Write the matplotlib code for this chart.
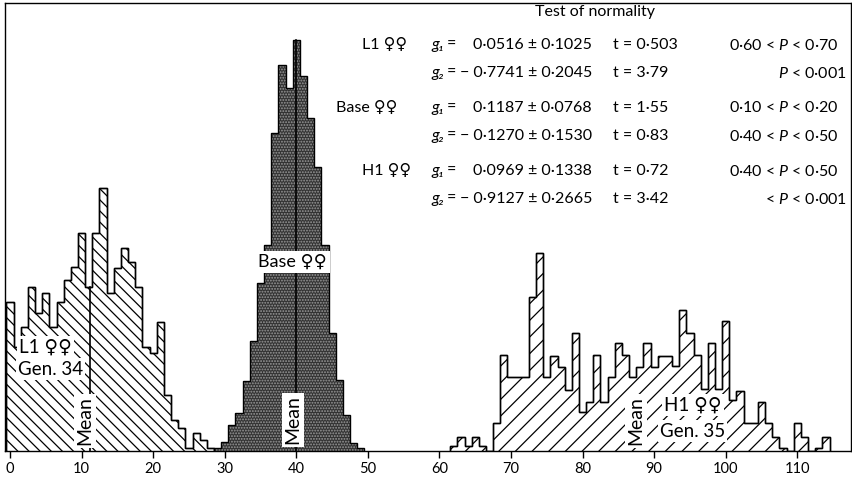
import numpy as np
import matplotlib
matplotlib.use("Agg")
import matplotlib.pyplot as plt

# ---------------- data (frequencies, arbitrary units) -------------
l1_start = 0
l1_freq = [149, 104, 124, 164, 138, 158, 124, 149, 171, 184, 218, 164, 218, 263,
           158, 183, 203, 189, 164, 104, 98, 129, 56, 31, 23, 3, 18, 11, 3]

base_start = 29
base_freq = [3, 9, 26, 38, 70, 110, 168, 206, 318, 386, 363, 411, 375, 333,
             284, 206, 118, 71, 36, 8, 3]

h1_start = 62
h1_freq = [5, 14, 5, 14, 5, 0, 28, 96, 74, 74, 74, 154, 198, 74, 95, 84, 61, 118,
           39, 49, 96, 49, 74, 108, 96, 74, 84, 108, 84, 95, 95, 85, 141, 118, 96,
           62, 108, 62, 130, 51, 60, 28, 28, 49, 28, 14, 3, 0, 28, 14, 0, 3, 14]

means = {"L1": 11.2, "Base": 40.0, "H1": 87.5}
x_ticks = list(range(0, 111, 10))

rows = [
    ("L1 ♀♀", "g₁", "0·0516 ± 0·1025", "t = 0·503", "0·60 < $P$ < 0·70"),
    ("", "g₂", "− 0·7741 ± 0·2045", "t = 3·79", "$P$ < 0·001"),
    ("Base ♀♀", "g₁", "0·1187 ± 0·0768", "t = 1·55", "0·10 < $P$ < 0·20"),
    ("", "g₂", "− 0·1270 ± 0·1530", "t = 0·83", "0·40 < $P$ < 0·50"),
    ("H1 ♀♀", "g₁", "0·0969 ± 0·1338", "t = 0·72", "0·40 < $P$ < 0·50"),
    ("", "g₂", "− 0·9127 ± 0·2665", "t = 3·42", "< $P$ < 0·001"),
]

# ---------------- figure ----------------
W, H = 853, 486
plt.rcParams['font.family'] = ['Lato', 'DejaVu Sans']
plt.rcParams['mathtext.fontset'] = 'custom'
plt.rcParams['mathtext.rm'] = 'Lato'
plt.rcParams['mathtext.it'] = 'Lato:italic'
plt.rcParams['hatch.linewidth'] = 0.9
fig = plt.figure(figsize=(W / 100, H / 100), dpi=100)
ax = fig.add_axes([5 / W, 1 - 451 / H, 846 / W, 448 / H])


def edges(start, n):
    return np.arange(start, start + n + 1) - 0.5


ax.stairs(l1_freq, edges(l1_start, len(l1_freq)), fill=True, hatch='\\\\\\',
          facecolor='white', edgecolor='black', linewidth=1.0, zorder=2)
ax.stairs(l1_freq, edges(l1_start, len(l1_freq)), fill=False,
          edgecolor='black', linewidth=1.0, zorder=3)
ax.stairs(base_freq, edges(base_start, len(base_freq)), fill=True, hatch='......',
          facecolor='#333333', edgecolor='#9a9a9a', linewidth=0, zorder=2)
ax.stairs(base_freq, edges(base_start, len(base_freq)), fill=False,
          edgecolor='black', linewidth=1.0, zorder=3)
ax.stairs(h1_freq, edges(h1_start, len(h1_freq)), fill=True, hatch='//',
          facecolor='white', edgecolor='black', linewidth=1.0, zorder=2)
ax.stairs(h1_freq, edges(h1_start, len(h1_freq)), fill=False,
          edgecolor='black', linewidth=1.0, zorder=3)

# mean lines
l1_m = means["L1"]
ax.plot([l1_m, l1_m], [0, l1_freq[int(round(l1_m)) - l1_start]], color='black', lw=1.2, zorder=4)
b_m = means["Base"]
ax.plot([b_m, b_m], [0, base_freq[int(round(b_m)) - base_start]], color='black', lw=1.2, zorder=4)

ax.set_xlim(-0.7, 117.5)
ax.set_ylim(0, 448)
ax.set_xticks(x_ticks)
ax.set_xticklabels([str(t) for t in x_ticks], fontsize=10.5)
ax.set_yticks([])
ax.tick_params(axis='x', direction='out', length=5, width=1, pad=3)
for s in ax.spines.values():
    s.set_linewidth(1.0)


def dx(px):
    return (px - 5) / (846 / 118.2) - 0.7


def dy(py):
    return 451 - py


wbox = dict(boxstyle='square,pad=0.12', facecolor='white', edgecolor='none')
ax.text(dx(19), dy(347), "L1 ♀♀", fontsize=13.5, ha='left', va='center', zorder=6, bbox=wbox)
ax.text(dx(18), dy(369), "Gen. 34", fontsize=13.5, ha='left', va='center', zorder=6, bbox=wbox)
ax.text(dx(85), dy(421), "Mean", fontsize=14, rotation=90, ha='center', va='center', zorder=6, bbox=wbox)
ax.text(dx(292), dy(262), "Base ♀♀", fontsize=13, ha='center', va='center', zorder=6,
        bbox=dict(boxstyle='square,pad=0.18', facecolor='white', edgecolor='none'))
ax.text(dx(293), dy(420), "Mean", fontsize=14, rotation=90, ha='center', va='center', zorder=6, bbox=wbox)
ax.text(dx(636), dy(421), "Mean", fontsize=14, rotation=90, ha='center', va='center', zorder=6, bbox=wbox)
ax.text(dx(664), dy(405), "H1 ♀♀", fontsize=13.5, ha='left', va='center', zorder=6, bbox=wbox)
ax.text(dx(660), dy(431), "Gen. 35", fontsize=13.5, ha='left', va='center', zorder=6, bbox=wbox)

# ---------------- table of normality tests ----------------
def ftxt(x, y, s, size=11.5, **kw):
    fig.text(x / W, 1 - y / H, s, va='center', fontsize=size, **kw)

ftxt(595, 12, "Test of normality", size=11.5, ha='center')
row_y = [45, 73, 108, 136, 171, 199]
name_x = [362, 362, 336, 336, 362, 362]
p_right = [838, 847, 838, 838, 838, 847]
for (name, g, val, t, p), y, nx, pr in zip(rows, row_y, name_x, p_right):
    if name:
        ftxt(nx, y, name, ha='left')
    ftxt(431, y, g, ha='left', style='italic')
    ftxt(447, y, "=", ha='left')
    ftxt(592, y, val, ha='right')
    ftxt(613, y, t, ha='left')
    ftxt(pr, y, p, ha='right')

fig.savefig("out.png", dpi=100)
